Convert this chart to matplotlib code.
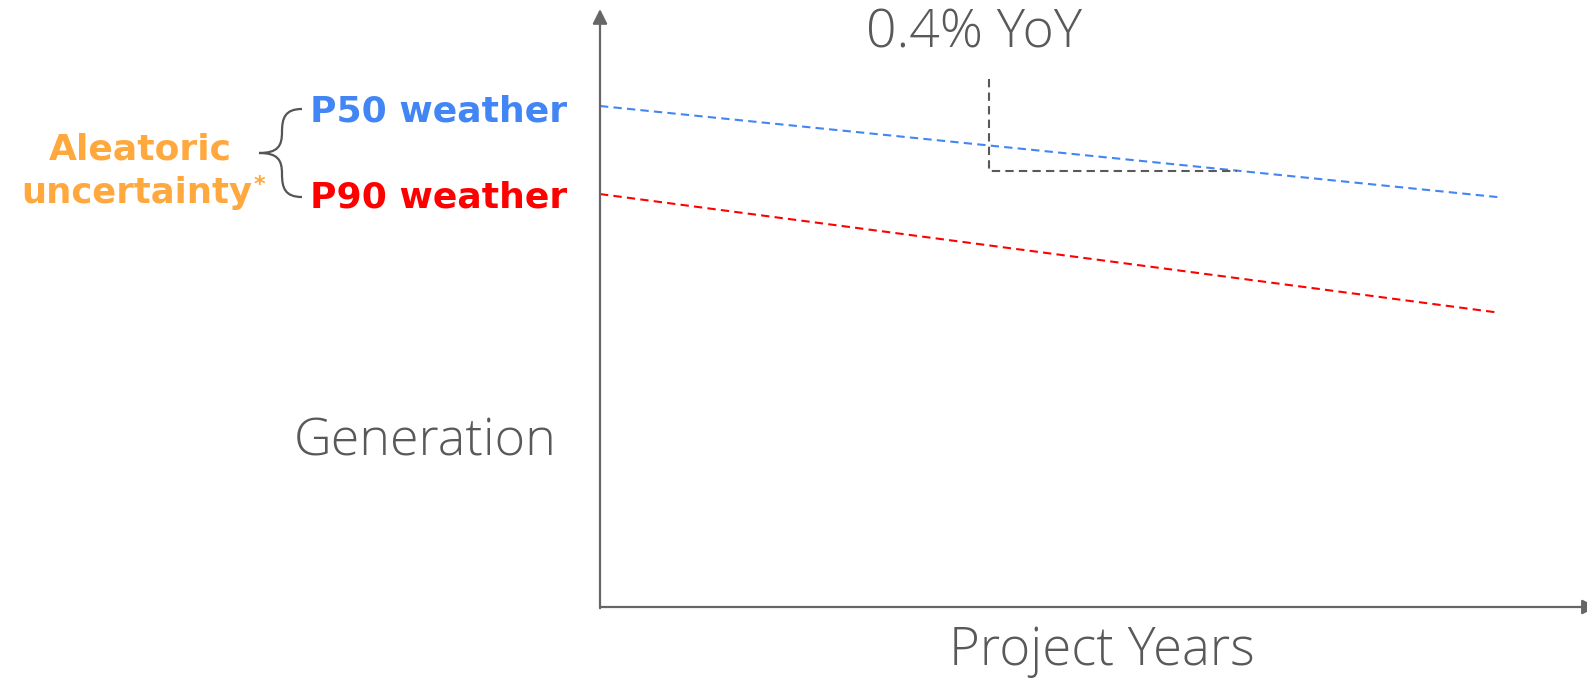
import numpy as np
import matplotlib.pyplot as plt
from matplotlib.path import Path
from matplotlib.patches import PathPatch

# degradation scenarios (generation index vs project year)
years = [0, 25]
p50 = [84.2, 68.9]
p90 = [69.4, 49.5]
# rise/run marker for the yearly loss
step_x = [10.83, 17.74]
step_top = 88.8

gray = '#595959'
blue = '#4285F4'
red = '#FF0000'
orange = '#FFA83E'

plt.rcParams['font.family'] = ['Open Sans', 'DejaVu Sans']
bold_font = ['DejaVu Sans']

fig = plt.figure(figsize=(15.87, 6.82), dpi=100)
ax = fig.add_axes([600/1587, 1-607/682, 987/1587, 595/682])
ax.set_xlim(0, 27.5)
ax.set_ylim(0, 100)
ax.axis('off')

ax.plot(years, p50, color=blue, lw=1.5, ls=(0, (4, 2.5)))
ax.plot(years, p90, color=red, lw=1.5, ls=(0, (4, 2.5)))

# slope triangle ending on the P50 line
slope = (p50[1]-p50[0])/(years[1]-years[0])
y_end = p50[0] + slope*step_x[1]
ax.plot([step_x[0], step_x[0], step_x[1]], [step_top, y_end, y_end],
        color=gray, lw=1.5, ls=(0, (4, 2.5)))

# axes with arrow heads
ax.annotate('', xy=(0, 1.005), xytext=(0, -0.002), xycoords='axes fraction',
            arrowprops=dict(arrowstyle='-|>', color='#666666', lw=1.6,
                            mutation_scale=22, shrinkA=0, shrinkB=0))
ax.annotate('', xy=(1.01, 0), xytext=(0, 0), xycoords='axes fraction',
            arrowprops=dict(arrowstyle='-|>', color='#666666', lw=1.6,
                            mutation_scale=22, shrinkA=0, shrinkB=0))

# overlay in pixel coordinates for labels and the brace
ov = fig.add_axes([0, 0, 1, 1], facecolor='none')
ov.set_xlim(0, 1587)
ov.set_ylim(682, 0)
ov.axis('off')

ov.text(974, 48, '0.4% YoY', ha='center', va='baseline',
        fontsize=38.5, color=gray, fontweight='light')
ov.text(557, 455, 'Generation', ha='right', va='baseline',
        fontsize=37.5, color=gray, fontweight='light')
ov.text(1102, 665, 'Project Years', ha='center', va='baseline',
        fontsize=38, color=gray, fontweight='light')

ov.text(567, 122, 'P50 weather', ha='right', va='baseline', fontsize=26,
        color=blue, fontweight='bold', family=bold_font)
ov.text(567, 207, 'P90 weather', ha='right', va='baseline', fontsize=26,
        color=red, fontweight='bold', family=bold_font)

verts = [(302, 109), (285, 109), (282, 118), (282, 132),
         (282, 146), (278, 153), (259, 153),
         (278, 153), (282, 160), (282, 174),
         (282, 188), (285, 197), (302, 197)]
codes = [Path.MOVETO] + [Path.CURVE4]*12
ov.add_patch(PathPatch(Path(verts, codes), fill=False, ec='#555555', lw=1.6))

ov.text(140, 159, 'Aleatoric', ha='center', va='baseline',
        fontsize=26, color=orange, fontweight='bold', family=bold_font)
ov.text(137, 203, 'uncertainty', ha='center', va='baseline',
        fontsize=25.5, color=orange, fontweight='bold', family=bold_font)
ov.text(259, 185, '*', ha='center', va='center',
        fontsize=16, color=orange, fontweight='bold', family=bold_font)

fig.savefig('out.png', dpi=100)
